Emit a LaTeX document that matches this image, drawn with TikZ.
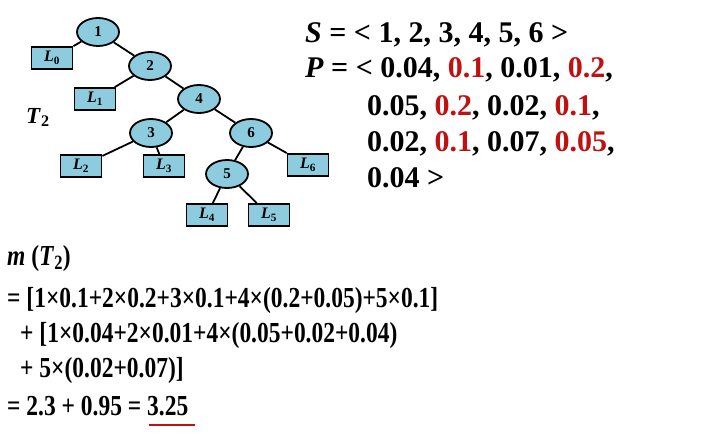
\documentclass[tikz,border=0pt]{standalone}
\usepackage{fontspec}
\usepackage{graphicx}
\setmainfont{Liberation Serif}
\usetikzlibrary{shapes.geometric}
\definecolor{nodefill}{RGB}{140,204,222}
\definecolor{hl}{RGB}{192,16,16}
\newcommand{\hlt}[1]{\textcolor{hl}{#1}}
\newcommand{\leafl}[1]{\textit{L}\textsubscript{\upshape #1}}
\begin{document}
\begin{tikzpicture}[x=1pt,y=-1pt,
  inode/.style={ellipse,draw=black,line width=1.8pt,fill=nodefill,minimum width=42pt,minimum height=28pt,inner sep=0pt,font=\fontsize{15}{15}\selectfont\bfseries},
  leaf/.style={rectangle,draw=black,line width=1.8pt,fill=nodefill,minimum width=41pt,minimum height=22pt,inner sep=0pt,font=\fontsize{16}{16}\selectfont\bfseries},
  edge/.style={line width=1.8pt,black},
  toptext/.style={anchor=base west,inner sep=0pt,font=\fontsize{30}{30}\selectfont\bfseries},
  bottext/.style={anchor=base west,inner sep=0pt,font=\fontsize{29}{29}\selectfont\bfseries}]
\useasboundingbox (0,0) rectangle (727,441);
% tree
\node[inode] (n1) at (98,32) {1};
\node[inode] (n2) at (150,66) {2};
\node[inode] (n4) at (199,99) {4};
\node[inode] (n3) at (151,133) {3};
\node[inode] (n6) at (251,133) {6};
\node[inode] (n5) at (227,174) {5};
\node[leaf] (l0) at (52,58) {\leafl{0}};
\node[leaf] (l1) at (95,99) {\leafl{1}};
\node[leaf] (l2) at (81,166) {\leafl{2}};
\node[leaf] (l3) at (164,166) {\leafl{3}};
\node[leaf] (l6) at (308,165) {\leafl{6}};
\node[leaf] (l4) at (207,215) {\leafl{4}};
\node[leaf] (l5) at (269,215) {\leafl{5}};
\draw[edge] (n1) -- (l0.north east);
\draw[edge] (n1) -- (n2);
\draw[edge] (n2) -- (l1);
\draw[edge] (n2) -- (n4);
\draw[edge] (n4) -- (n3);
\draw[edge] (n4) -- (n6);
\draw[edge] (n3) -- (l2);
\draw[edge] (n3) -- (l3);
\draw[edge] (n6) -- (n5);
\draw[edge] (n6) -- (l6);
\draw[edge] (n5) -- (l4);
\draw[edge] (n5) -- (l5);
\node[anchor=base west,inner sep=0pt,font=\fontsize{23}{23}\selectfont\bfseries] (t2) at (26,123) {\textit{T}\textsubscript{2}};
% S and P
\node[toptext] (s) at (305,43) {\textit{S} = < 1, 2, 3, 4, 5, 6 >};
\node[toptext] (p1) at (305,78) {\textit{P} = < 0.04, \hlt{0.1}, 0.01, \hlt{0.2},};
\node[toptext] (p2) at (367,115) {0.05, \hlt{0.2}, 0.02, \hlt{0.1},};
\node[toptext] (p3) at (367,151) {0.02, \hlt{0.1}, 0.07, \hlt{0.05},};
\node[toptext] (p4) at (367,187) {0.04 >};
% bottom formula
\node[bottext] (m) at (7,265) {\scalebox{0.81}[1]{\textit{m} (\textit{T}\textsubscript{2})}};
\node[bottext] (f1) at (7,307) {\scalebox{0.81}[1]{= [1×0.1+2×0.2+3×0.1+4×(0.2+0.05)+5×0.1]}};
\node[bottext] (f2) at (20,342) {\scalebox{0.81}[1]{+ [1×0.04+2×0.01+4×(0.05+0.02+0.04)}};
\node[bottext] (f3) at (20,377) {\scalebox{0.81}[1]{+ 5×(0.02+0.07)]}};
\node[bottext] (f4) at (7,415) {\scalebox{0.81}[1]{= 2.3 + 0.95 = 3.25}};
\coordinate (u1) at (149,425);
\coordinate (u2) at (195,425);
\draw[hl,line width=2pt] (u1) -- (u2);
\end{tikzpicture}
\end{document}
